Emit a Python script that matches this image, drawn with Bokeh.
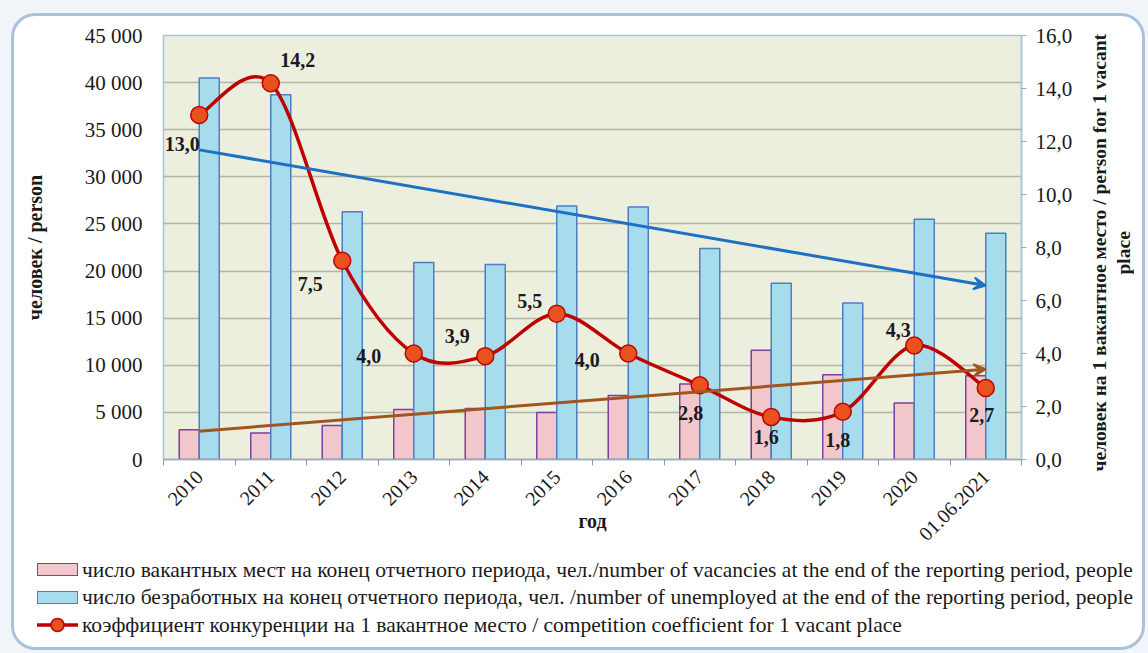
import numpy as np
from bokeh.plotting import figure
from bokeh.layouts import column, row
from bokeh.models import (Range1d, LinearAxis, FixedTicker, Arrow, VeeHead,
                          ColumnDataSource, Div, InlineStyleSheet)
from bokeh.core.properties import value
from bokeh.embed import file_html
from bokeh.resources import INLINE

# ---------------- data ----------------
categories = ["2010", "2011", "2012", "2013", "2014", "2015", "2016", "2017",
              "2018", "2019", "2020", "01.06.2021"]
vacancies = [3150, 2800, 3600, 5300, 5400, 5000, 6800, 8000, 11600, 9000, 6000, 8900]
unemployed = [40500, 38700, 26300, 20900, 20700, 26900, 26800, 22400, 18700, 16600, 25500, 24000]
coefficient = [13.0, 14.2, 7.5, 4.0, 3.9, 5.5, 4.0, 2.8, 1.6, 1.8, 4.3, 2.7]
left_ticks = [0, 5000, 10000, 15000, 20000, 25000, 30000, 35000, 40000, 45000]
right_ticks = [0, 2, 4, 6, 8, 10, 12, 14, 16]

x_title = "год"
left_title = "человек / person"
right_title = ["человек на 1 вакантное место / person for 1 vacant", "place"]
legend_labels = [
    "число вакантных мест на конец отчетного периода, чел./number of vacancies at the end of the reporting period, people",
    "число безработных на конец отчетного периода, чел. /number of unemployed at the end of the reporting period, people",
    "коэффициент конкуренции на 1 вакантное место / competition coefficient for 1 vacant place",
]

# label placement (pixels) for the coefficient data labels
LABEL_DX = [-17, 27, -32, -45, -28, -27, -41, -9, -5, -5, -16, -4]
LABEL_DY = [29, -23, 23, 2, -20, -13, 6, 28, 20, 28, -16, 27]

FONT = "Liberation Serif"
TXT = "#1a1a1a"

PINK_FILL, PINK_LINE = "#F2C7CC", "#7E3FA0"
BLUE_FILL, BLUE_LINE = "#A7DCEC", "#4B7FC3"
RED, RED_PT = "#C00000", "#E8521E"

x = list(range(len(categories)))
n = len(categories)
BW = 0.28

p = figure(frame_width=858, frame_height=424,
           x_range=Range1d(-0.5, n - 0.5),
           y_range=Range1d(0, 45000),
           output_backend="svg", toolbar_location=None,
           min_border_left=163, min_border_right=64,
           min_border_top=35, min_border_bottom=94)
p.extra_y_ranges = {"coef": Range1d(0, 16)}

p.background_fill_color = "#ECEEDE"
p.border_fill_color = "white"
p.outline_line_color = "#A9C3D9"
p.outline_line_width = 1.5

# ---------------- bars ----------------
src = ColumnDataSource(dict(
    xp=[i - BW / 2 for i in x], xb=[i + BW / 2 for i in x],
    vac=vacancies, unemp=unemployed))
p.vbar(x="xp", top="vac", width=BW, source=src,
       fill_color=PINK_FILL, line_color=PINK_LINE, line_width=1.5)
p.vbar(x="xb", top="unemp", width=BW, source=src,
       fill_color=BLUE_FILL, line_color=BLUE_LINE, line_width=1.5)

# ---------------- trend lines ----------------
su, iu = np.polyfit(x, unemployed, 1)
sv, iv = np.polyfit(x, vacancies, 1)
p.add_layout(Arrow(x_start=x[0], y_start=iu + su * x[0], x_end=x[-1], y_end=iu + su * x[-1],
                   line_color="#1E70C4", line_width=3,
                   end=VeeHead(size=12, line_color="#1E70C4", fill_color="#1E70C4", line_width=2)))
p.add_layout(Arrow(x_start=x[0], y_start=iv + sv * x[0], x_end=x[-1], y_end=iv + sv * x[-1],
                   line_color="#A0561E", line_width=3,
                   end=VeeHead(size=12, line_color="#A0561E", fill_color="#A0561E", line_width=2)))

# ---------------- smoothed coefficient line (bezier segments) ----------------
x0, y0, x1, y1, cx0, cy0, cx1, cy1 = [], [], [], [], [], [], [], []
for i in range(n - 1):
    ip, inn = max(i - 1, 0), min(i + 2, n - 1)
    x0.append(x[i]); y0.append(coefficient[i])
    x1.append(x[i + 1]); y1.append(coefficient[i + 1])
    cx0.append(x[i] + (x[i + 1] - x[ip]) / 6); cy0.append(coefficient[i] + (coefficient[i + 1] - coefficient[ip]) / 6)
    cx1.append(x[i + 1] - (x[inn] - x[i]) / 6); cy1.append(coefficient[i + 1] - (coefficient[inn] - coefficient[i]) / 6)
p.bezier(x0=x0, y0=y0, x1=x1, y1=y1, cx0=cx0, cy0=cy0, cx1=cx1, cy1=cy1,
         y_range_name="coef", line_color=RED, line_width=3.5)
p.scatter(x=x, y=coefficient, size=17, y_range_name="coef",
          fill_color=RED_PT, line_color=RED, line_width=1.5)

lab_src = ColumnDataSource(dict(
    x=x, y=coefficient, t=[f"{v:.1f}".replace(".", ",") for v in coefficient],
    dx=LABEL_DX, dy=LABEL_DY))
p.text(x="x", y="y", text="t", x_offset="dx", y_offset="dy", source=lab_src,
       y_range_name="coef", text_font=value(FONT), text_font_size="20px",
       text_font_style="bold", text_align="center", text_baseline="middle", text_color=TXT)

# ---------------- axes ----------------
p.xgrid.visible = False
p.ygrid.grid_line_color = "#B2B5A2"
p.ygrid.grid_line_width = 1.5

xa = p.xaxis[0]
xa.ticker = FixedTicker(ticks=x, minor_ticks=[i - 0.5 for i in range(n + 1)])
xa.major_label_overrides = {i: c for i, c in enumerate(categories)}
xa.major_label_orientation = np.pi / 4
xa.major_tick_out = 0
xa.major_tick_in = 0
xa.minor_tick_out = 6
xa.minor_tick_in = 0
xa.minor_tick_line_color = "#8F9AA6"
xa.axis_line_color = "#9AA6B2"
xa.axis_line_width = 1.5
xa.major_label_standoff = 8
xa.major_label_text_font = FONT
xa.major_label_text_font_size = "20px"
xa.major_label_text_color = TXT
xa.axis_label = x_title
xa.axis_label_text_font = FONT
xa.axis_label_text_font_size = "20px"
xa.axis_label_text_font_style = "bold"
xa.axis_label_text_color = TXT
xa.axis_label_standoff = -40

ya = p.yaxis[0]
ya.ticker = FixedTicker(ticks=left_ticks)
ya.major_label_overrides = {v: f"{v:,}".replace(",", " ") for v in left_ticks}
ya.axis_line_color = None
ya.major_tick_line_color = None
ya.minor_tick_line_color = None
ya.major_label_standoff = 15
ya.major_label_text_font = FONT
ya.major_label_text_font_size = "21px"
ya.major_label_text_color = TXT
ya.axis_label = left_title
ya.axis_label_text_font = FONT
ya.axis_label_text_font_size = "20px"
ya.axis_label_text_font_style = "bold"
ya.axis_label_text_color = TXT
ya.axis_label_standoff = 36

ra = LinearAxis(y_range_name="coef", ticker=FixedTicker(ticks=right_ticks))
ra.major_label_overrides = {v: f"{v:.1f}".replace(".", ",") for v in right_ticks}
ra.axis_line_color = "#A9C3D9"
ra.axis_line_width = 1.5
ra.major_tick_line_color = "#9AA6B2"
ra.major_tick_out = 5
ra.major_tick_in = 0
ra.minor_tick_line_color = None
ra.major_label_standoff = 9
ra.major_label_text_font = FONT
ra.major_label_text_font_size = "21px"
ra.major_label_text_color = TXT
p.add_layout(ra, "right")

# ---------------- right axis title (rotated HTML text, reads bottom-to-top) ----------------
right_div = Div(
    text=(f'<div style="width:63px;height:505px;display:flex;align-items:center;'
          f'justify-content:flex-start;padding-left:3px;box-sizing:border-box">'
          f'<div style="writing-mode:vertical-rl;transform:rotate(180deg);text-align:center;'
          f'white-space:nowrap;font-family:\'{FONT}\';font-size:19.5px;font-weight:bold;'
          f'line-height:24px;color:{TXT}">{right_title[0]}<br>{right_title[1]}</div></div>'),
    width=63, height=553, margin=(0, 0, 0, 0), styles={"background-color": "white"})

# ---------------- legend (HTML strip below the chart) ----------------
def swatch_rect(fill, line):
    return (f'<span style="display:inline-block;box-sizing:border-box;width:41px;height:13px;'
            f'background:{fill};border:1.5px solid {line};margin-right:4px;flex:none"></span>')

swatch_line = (f'<svg width="41" height="16" style="margin-right:4px;flex:none">'
               f'<line x1="0" y1="8" x2="41" y2="8" stroke="{RED}" stroke-width="3.5"/>'
               f'<circle cx="20.5" cy="8" r="6.5" fill="{RED_PT}" stroke="{RED}" stroke-width="1.5"/></svg>')

swatches = [swatch_rect(PINK_FILL, PINK_LINE), swatch_rect(BLUE_FILL, BLUE_LINE), swatch_line]
rows = "".join(
    f'<div style="display:flex;align-items:center;height:27.5px;white-space:nowrap">{s}<span>{t}</span></div>'
    for s, t in zip(swatches, legend_labels))
legend_div = Div(
    text=f'<div style="padding:3px 0 0 37px;font-family:\'{FONT}\';font-size:21.5px;color:{TXT};'
         f'line-height:22px;background:white;width:1111px;height:97px">{rows}</div>',
    width=1148, height=100, margin=(0, 0, 0, 0),
    styles={"background-color": "white"})

# decorative rounded panel frame around the whole chart (drawn over the page edges)
panel_css = InlineStyleSheet(css="""
:host { position: relative; }
:host::after {
  content: ""; position: absolute; left: 11px; top: 13px; right: 3px; bottom: 3px;
  border: 3px solid #A9C1DC; border-radius: 24px; pointer-events: none;
  box-shadow: 0 0 0 40px #F1F5F9; z-index: 10;
}
""")

layout = column(row(p, right_div, spacing=0), legend_div, spacing=0, stylesheets=[panel_css])
open("out.html", "w").write(file_html(layout, INLINE))
